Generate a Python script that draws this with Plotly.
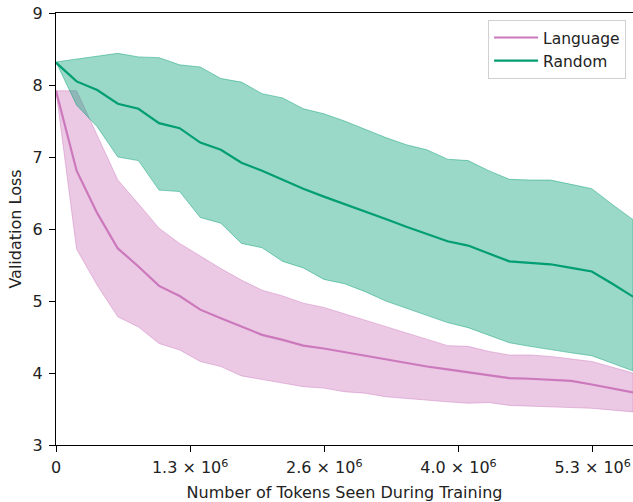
import plotly.graph_objects as go

tokens = [0, 204800, 409600, 614400, 819200, 1024000, 1228800, 1433600, 1638400,
          1843200, 2048000, 2252800, 2457600, 2662400, 2867200, 3072000, 3276800,
          3481600, 3686400, 3891200, 4096000, 4300800, 4505600, 4710400, 4915200,
          5120000, 5324800, 5529600, 5734400]

language_mean = [7.92, 6.81, 6.22, 5.73, 5.48, 5.21, 5.07, 4.88, 4.76, 4.64, 4.53, 4.46,
                 4.38, 4.34, 4.29, 4.23, 4.18, 4.13, 4.09, 4.05, 4.01, 3.98, 3.93, 3.92,
                 3.91, 3.89, 3.84, 3.79, 3.73]
language_upper = [7.92, 7.92, 7.30, 6.68, 6.35, 6.01, 5.80, 5.62, 5.45, 5.29, 5.15, 5.07,
                  4.97, 4.91, 4.82, 4.74, 4.65, 4.55, 4.46, 4.38, 4.37, 4.30, 4.25, 4.25,
                  4.23, 4.20, 4.16, 4.08, 4.00]
language_lower = [7.92, 5.72, 5.22, 4.78, 4.64, 4.41, 4.32, 4.16, 4.09, 3.96, 3.91, 3.86,
                  3.81, 3.79, 3.74, 3.72, 3.67, 3.64, 3.62, 3.60, 3.58, 3.59, 3.55, 3.54,
                  3.53, 3.52, 3.51, 3.49, 3.46]

random_mean = [8.31, 8.05, 7.93, 7.74, 7.67, 7.47, 7.40, 7.20, 7.10, 6.92, 6.81, 6.68,
               6.56, 6.45, 6.35, 6.24, 6.14, 6.03, 5.93, 5.83, 5.77, 5.66, 5.55, 5.53,
               5.51, 5.46, 5.41, 5.24, 5.06]
random_upper = [8.32, 8.36, 8.40, 8.44, 8.39, 8.38, 8.28, 8.25, 8.09, 8.04, 7.88, 7.82,
                7.67, 7.60, 7.50, 7.38, 7.27, 7.17, 7.10, 6.97, 6.95, 6.81, 6.69, 6.68,
                6.68, 6.62, 6.56, 6.34, 6.13]
random_lower = [8.32, 7.72, 7.42, 7.00, 6.95, 6.54, 6.52, 6.16, 6.08, 5.80, 5.74, 5.55,
                5.46, 5.30, 5.24, 5.13, 5.00, 4.90, 4.80, 4.70, 4.63, 4.53, 4.42, 4.37,
                4.32, 4.28, 4.24, 4.13, 4.03]

x_tickvals = [0, 1333333, 2666667, 4000000, 5333333]
x_ticktext = ["0", "1.3 × 10<sup>6</sup>", "2.6 × 10<sup>6</sup>",
              "4.0 × 10<sup>6</sup>", "5.3 × 10<sup>6</sup>"]
y_tickvals = [3, 4, 5, 6, 7, 8, 9]

series = [
    ("Language", language_mean, language_upper, language_lower, (204, 120, 188)),
    ("Random", random_mean, random_upper, random_lower, (2, 158, 115)),
]

fig = go.Figure()
for name, mean, upper, lower, (r, g, b) in series:
    fig.add_trace(go.Scatter(
        x=tokens + tokens[::-1], y=upper + lower[::-1],
        fill="toself", fillcolor=f"rgba({r},{g},{b},0.4)",
        line=dict(color=f"rgba({r},{g},{b},0.45)", width=1),
        mode="lines", showlegend=False, hoverinfo="skip"))
    fig.add_trace(go.Scatter(
        x=tokens, y=mean, mode="lines", name=name,
        line=dict(color=f"rgb({r},{g},{b})", width=2.2)))

fig.update_layout(
    width=633, height=502,
    margin=dict(l=56, r=0, t=13, b=57, autoexpand=False),
    paper_bgcolor="white", plot_bgcolor="white",
    font=dict(family="DejaVu Sans", size=16, color="#222222"),
    showlegend=True,
    legend=dict(x=0.988, y=0.984, xanchor="right", yanchor="top",
                bgcolor="rgba(255,255,255,0.8)", bordercolor="#d0d0d0", borderwidth=1,
                font=dict(family="DejaVu Sans", size=15.5, color="#222222"),
                itemwidth=44, tracegroupgap=0),
)
fig.update_xaxes(
    range=[0, 5734400], tickvals=x_tickvals, ticktext=x_ticktext, automargin=False,
    showgrid=False, zeroline=False, showline=True, linecolor="black", linewidth=1.3,
    mirror=True, ticks="outside", ticklen=6, tickcolor="black", tickwidth=1.3,
    tickfont=dict(size=16), ticklabelstandoff=2, ticklabeloverflow="allow",
    title=dict(text="Number of Tokens Seen During Training", font=dict(size=16), standoff=10),
)
fig.update_yaxes(
    range=[3, 9], tickvals=y_tickvals, automargin=False,
    showgrid=False, zeroline=False, showline=True, linecolor="black", linewidth=1.3,
    ticks="outside", ticklen=6, tickcolor="black", tickwidth=1.3,
    tickfont=dict(size=16), ticklabelstandoff=3, ticklabeloverflow="allow",
    title=dict(text="Validation Loss", font=dict(size=16), standoff=6),
)

fig.write_html(
    "out.html",
    config={"displayModeBar": False},
    post_script="document.body.style.margin='0';document.body.style.overflow='hidden';",
)
